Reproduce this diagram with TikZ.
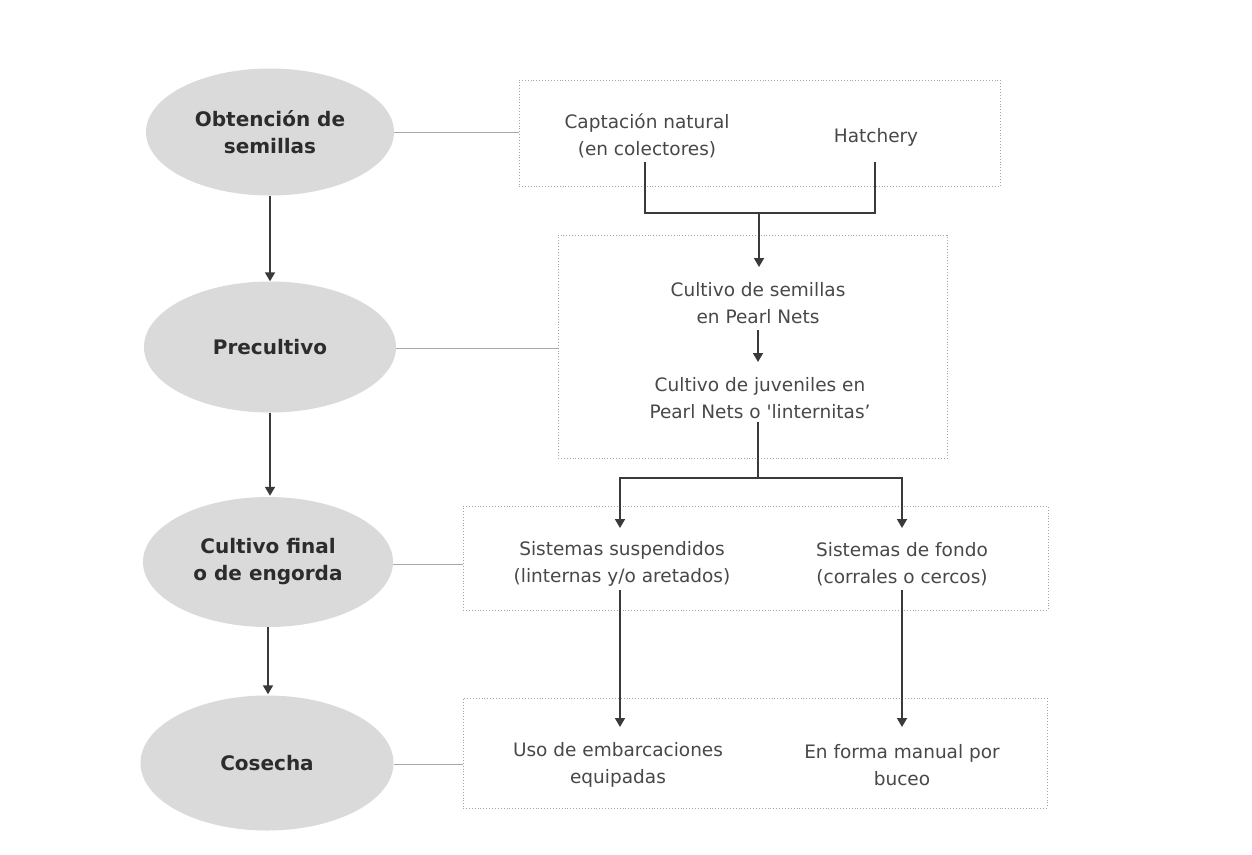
\documentclass[tikz,border=0pt]{standalone}
\usepackage{fontspec}
\setmainfont{DejaVu Sans}
\usetikzlibrary{shapes.geometric,arrows.meta}
\definecolor{ellfill}{HTML}{DADADA}
\definecolor{txt}{HTML}{484848}
\definecolor{btxt}{HTML}{2C2C2C}
\definecolor{conn}{HTML}{3A3A3A}
\definecolor{faint}{HTML}{A8A8A8}
\definecolor{dots}{HTML}{A4A4A4}
\tikzset{
  stage/.style={ellipse, fill=ellfill, draw=none, minimum width=248pt, minimum height=130pt,
    font=\fontsize{20}{27}\selectfont\bfseries, text=btxt, align=center, inner sep=0pt},
  lbl/.style={font=\fontsize{18.5}{27}\selectfont, text=txt, align=center, inner sep=0pt},
  dotbox/.style={draw=dots, dotted, line width=0.9pt, inner sep=0pt},
  flow/.style={draw=conn, line width=1.7pt},
  arr/.style={flow, -{Triangle[width=10pt,length=9pt]}},
  link/.style={draw=faint, line width=1pt},
}
\begin{document}
\begin{tikzpicture}[x=1pt,y=-1pt]
\useasboundingbox[fill=white] (0,0) rectangle (1252,854);

% dotted boxes
\node[dotbox, minimum width=481pt, minimum height=106pt] (b1) at (759.5,133) {};
\node[dotbox, minimum width=389pt, minimum height=223pt] (b2) at (752.5,346.5) {};
\node[dotbox, minimum width=585pt, minimum height=104pt] (b3) at (755.5,558) {};
\node[dotbox, minimum width=584pt, minimum height=110pt] (b4) at (755,753) {};

% stages
\node[stage, minimum height=127pt] (e1) at (270,132) {Obtención de\\semillas};
\node[stage, minimum width=252pt, minimum height=131pt] (e2) at (270,347) {Precultivo};
\node[stage, minimum width=250pt] (e3) at (268,562) {Cultivo final\\o de engorda};
\node[stage, minimum width=253pt, minimum height=135pt] (e4) at (267,763) {Cosecha};

% texts
\node[lbl] (capt) at (647,135.5) {Captación natural\\(en colectores)};
\node[lbl] (hatch) at (876,137) {Hatchery};
\node[lbl] (cs) at (758,303.5) {Cultivo de semillas\\en Pearl Nets};
\node[lbl] (cj) at (760,398.5) {Cultivo de juveniles en\\Pearl Nets o \textquotesingle linternitas'};
\node[lbl] (ss) at (622,564) {Sistemas suspendidos\\(linternas y/o aretados)};
\node[lbl] (sf) at (902,564) {Sistemas de fondo\\(corrales o cercos)};
\node[lbl] (ue) at (618,765) {Uso de embarcaciones\\equipadas};
\node[lbl] (em) at (902,765) {En forma manual por\\buceo};

% stage arrows
\draw[arr] (e1.south) -- (e1.south |- e2.north);
\draw[arr] (e2.south) -- ([yshift=1pt]e2.south |- e3.north);
\draw[arr] (e3.south) -- ([yshift=1pt]e3.south |- e4.north);

% links stage -> box
\draw[link] (e1.east) -- (e1.east -| b1.west);
\draw[link] ([yshift=-1pt]e2.east) -- ([yshift=-1pt]e2.east -| b2.west);
\draw[link] ([yshift=-2pt]e3.east) -- ([yshift=-2pt]e3.east -| b3.west);
\draw[link] ([yshift=-1pt]e4.east) -- ([yshift=-1pt]e4.east -| b4.west);

% connectors inside
\coordinate (capt-foot) at (645,162);
\coordinate (hatch-foot) at (875,162);
\coordinate (merge) at (759,213);
\coordinate (cs-head) at (759,267);
\draw[flow] (capt-foot) |- (merge) -| (hatch-foot);
\draw[arr] (merge) -- (cs-head);

\coordinate (cs-foot) at (758,330);
\coordinate (cj-head) at (758,362);
\draw[arr] (cs-foot) -- (cj-head);

\coordinate (cj-foot) at (758,422);
\coordinate (split) at (758,478);
\coordinate (ss-head) at (620,528);
\coordinate (sf-head) at (902,528);
\draw[flow] (cj-foot) -- (split);
\draw[arr] (split) -| (ss-head);
\draw[arr] (split) -| (sf-head);

\coordinate (ss-foot) at (620,590);
\coordinate (ue-head) at (620,727);
\coordinate (sf-foot) at (902,590);
\coordinate (em-head) at (902,727);
\draw[arr] (ss-foot) -- (ue-head);
\draw[arr] (sf-foot) -- (em-head);
\end{tikzpicture}
\end{document}
